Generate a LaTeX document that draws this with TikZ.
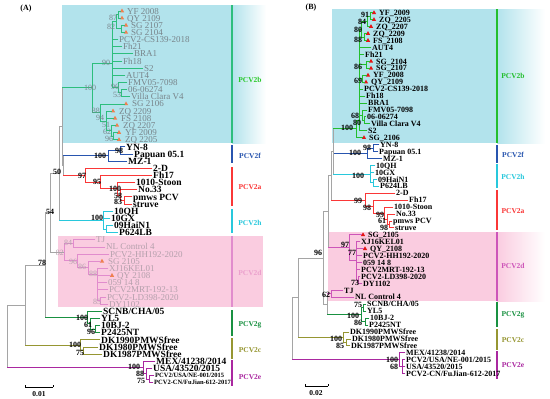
\documentclass[tikz,border=0pt]{standalone}
\usepackage{fontspec}
\setmainfont{Liberation Serif}
\usetikzlibrary{shapes.geometric}
\definecolor{cyanbg}{RGB}{178,227,236}
\definecolor{pinkbg}{RGB}{250,204,224}
\definecolor{cgray}{RGB}{165,165,165}
\definecolor{tgray}{RGB}{120,132,138}
\definecolor{tpink}{RGB}{180,160,172}
\definecolor{Ab}{RGB}{45,190,125}
\definecolor{Bb}{RGB}{35,190,45}
\definecolor{cf}{RGB}{40,85,175}
\definecolor{ca}{RGB}{250,55,55}
\definecolor{ch}{RGB}{40,200,220}
\definecolor{Ad}{RGB}{225,140,205}
\definecolor{Bd}{RGB}{205,85,185}
\definecolor{cg}{RGB}{25,145,65}
\definecolor{cc}{RGB}{150,150,50}
\definecolor{ce}{RGB}{170,40,160}
\definecolor{torange}{RGB}{238,128,80}
\definecolor{tred}{RGB}{230,20,20}
\definecolor{labAb}{RGB}{40,200,40}
\definecolor{labAd}{RGB}{235,160,205}
\tikzset{
 br/.style={line width=0.9pt,line cap=rect},
 eg/.style={br,draw=cgray,line width=0.8pt},
 eAb/.style={br,draw=Ab}, eBb/.style={br,draw=Bb},
 ef/.style={br,draw=cf}, ea/.style={br,draw=ca}, eh/.style={br,draw=ch},
 eAd/.style={br,draw=Ad}, eBd/.style={br,draw=Bd},
 egg/.style={br,draw=cg}, ec/.style={br,draw=cc}, ee/.style={br,draw=ce},
 lfbase/.style={anchor=west,inner sep=1pt,text depth=0pt},
 la/.style={lfbase,text height=6.3pt,font=\fontsize{9.5}{9.5}\selectfont\bfseries},
 lag/.style={lfbase,text height=6pt,text=tgray,font=\fontsize{9}{9}\selectfont},
 lap/.style={lag,text=tpink},
 las/.style={lfbase,text height=4.3pt,font=\fontsize{6.5}{6.5}\selectfont\bfseries},
 lb/.style={lfbase,text height=5.3pt,font=\fontsize{8}{8}\selectfont\bfseries},
 bsk/.style={inner sep=0pt,text height=5.3pt,text depth=0pt,font=\fontsize{8}{8}\selectfont\bfseries},
 bsg/.style={bsk,text=tgray,font=\fontsize{8}{8}\selectfont},
 bsp/.style={bsk,text=tpink,font=\fontsize{8}{8}\selectfont},
 triangA/.style={regular polygon,regular polygon sides=3,minimum size=5pt,inner sep=0pt,fill=torange},
 triangB/.style={triangA,fill=tred},
 cbar/.style={line width=1.5pt},
 clab/.style={inner sep=0pt,font=\fontsize{7.5}{7.5}\selectfont\bfseries},
 plab/.style={inner sep=0pt,font=\fontsize{8}{8}\selectfont\bfseries},
}
\newcommand\leafA[5]{\node[#4] (#1) at (#3,{11+7.15*#2}) {#5};}
\newcommand\triA[3]{\node[triangA] (#1) at (#3,{11+7.15*#2}) {};}
\newcommand\leafB[5]{\node[#4] (#1) at (#3,{12.8+6.94*#2}) {#5};}
\newcommand\triB[3]{\node[triangB] (#1) at (#3,{12.8+6.94*#2}) {};}
\newcommand\E[3]{\draw[#1] (#2) |- (#3);}
\newcommand\ES[4]{\draw[#1] (#3) -- (#3 |- #4);\draw[#2] (#3 |- #4) -- (#4);}
\newcommand\BS[5]{\node[#1] (#2) at (#3,#4) {#5};}
\begin{document}
\begin{tikzpicture}[x=1pt,y=-1pt]
\useasboundingbox (0,0) rectangle (550,399);
\fill[white] (0,0) rectangle (550,399);
% ---------- backgrounds
\fill[cyanbg] (62,5) rectangle (232,143);
\shade[left color=cyanbg,right color=white] (232,5) rectangle (266,143);
\fill[pinkbg] (58,236) rectangle (263,307);
\fill[cyanbg] (332,9) rectangle (497,143);
\shade[left color=cyanbg,right color=white] (497,9) rectangle (545,143);
\fill[pinkbg] (328,232) rectangle (497,301);
\shade[left color=pinkbg,right color=white] (497,232) rectangle (545,301);
% ---------- clade bars and labels A
\draw[cbar,draw=Ab] (232,5) -- (232,143);
\draw[cbar,draw=cf] (232,145) -- (232,163);
\draw[cbar,draw=ca] (232,167) -- (232,206);
\draw[cbar,draw=ch] (232,209) -- (232,233);
\draw[cbar,draw=Ad] (232,236) -- (232,307);
\draw[cbar,draw=cg] (232,310) -- (232,336);
\draw[cbar,draw=cc] (232,338) -- (232,359);
\draw[cbar,draw=ce] (232,360) -- (232,386);
\node[clab,text=labAb] (LAb) at (250,80) {PCV2b};
\node[clab,text=cf] (LAf) at (250,156) {PCV2f};
\node[clab,text=ca] (LAa) at (250,187) {PCV2a};
\node[clab,text=ch] (LAh) at (250,223) {PCV2h};
\node[clab,text=labAd] (LAd) at (250,273) {PCV2d};
\node[clab,text=cg] (LAg) at (250,325) {PCV2g};
\node[clab,text=cc] (LAc) at (250,350) {PCV2c};
\node[clab,text=ce] (LAe) at (250,377) {PCV2e};
% ---------- clade bars and labels B
\draw[cbar,draw=Bb] (497,9) -- (497,143);
\draw[cbar,draw=cf] (497,145) -- (497,163);
\draw[cbar,draw=ch] (497,164) -- (497,188);
\draw[cbar,draw=ca] (497,190) -- (497,230);
\draw[cbar,draw=Bd] (497,232) -- (497,301);
\draw[cbar,draw=cg] (497,302) -- (497,327);
\draw[cbar,draw=cc] (497,329) -- (497,350);
\draw[cbar,draw=ce] (497,351) -- (497,379);
\node[clab,text=Bb] (LBb) at (513,76) {PCV2b};
\node[clab,text=cf] (LBf) at (513,155) {PCV2f};
\node[clab,text=ch] (LBh) at (513,177) {PCV2h};
\node[clab,text=ca] (LBa) at (513,211) {PCV2a};
\node[clab,text=Bd] (LBd) at (513,266) {PCV2d};
\node[clab,text=cg] (LBg) at (513,315) {PCV2g};
\node[clab,text=cc] (LBc) at (513,340) {PCV2c};
\node[clab,text=ce] (LBe) at (513,365) {PCV2e};
% ---------- panel labels
\node[plab] (PA) at (26,9) {(A)};
\node[plab] (PB) at (311,8) {(B)};
% ================= PANEL A leaves
\leafA{a0}{0}{126}{lag}{YF 2008}\triA{at0}{0}{122}
\leafA{a1}{1}{126}{lag}{QY 2109}\triA{at1}{1}{122}
\leafA{a2}{2}{130}{lag}{SG 2107}\triA{at2}{2}{126}
\leafA{a3}{3}{130}{lag}{SG 2104}\triA{at3}{3}{126}
\leafA{a4}{4}{118}{lag}{PCV2-CS139-2018}
\leafA{a5}{5}{122}{lag}{Fh21}
\leafA{a6}{6}{133}{lag}{BRA1}
\leafA{a7}{7}{122}{lag}{Fh18}
\leafA{a8}{8}{143}{lag}{S2}
\leafA{a9}{9}{125}{lag}{AUT4}
\leafA{a10}{10}{127}{lag}{FMV05-7098}
\leafA{a11}{11}{127}{lag}{06-06274}
\leafA{a12}{12}{130}{lag}{Villa Clara V4}
\leafA{a13}{13}{131}{lag}{SG 2106}\triA{at13}{13}{126}
\leafA{a14}{14}{118}{lag}{ZQ 2209}\triA{at14}{14}{113}
\leafA{a15}{15}{120}{lag}{FS 2108}\triA{at15}{15}{115}
\leafA{a16}{16}{122}{lag}{ZQ 2207}\triA{at16}{16}{117}
\leafA{a17}{17}{124}{lag}{YF 2009}\triA{at17}{17}{119}
\leafA{a18}{18}{124}{lag}{ZQ 2205}\triA{at18}{18}{119}
\leafA{a19}{19}{125}{la}{YN-8}
\leafA{a20}{20}{133}{la}{Papuan 05.1}
\leafA{a21}{21}{127}{la}{MZ-1}
\leafA{a22}{22}{152}{la}{2-D}
\leafA{a23}{23}{152}{la}{Fh17}
\leafA{a24}{24}{135}{la}{1010-Stoon}
\leafA{a25}{25}{137}{la}{No.33}
\leafA{a26}{26}{132}{la}{pmws PCV}
\leafA{a27}{27}{132}{la}{struve}
\leafA{a28}{28}{113}{la}{10QH}
\leafA{a29}{29}{110}{la}{10GX}
\leafA{a30}{30}{113}{la}{09HaiN1}
\leafA{a31}{31}{118}{la}{P624LB}
\leafA{a32}{32}{95}{lap}{TJ}
\leafA{a33}{33}{105}{lap}{NL Control 4}
\leafA{a34}{34}{109}{lap}{PCV2-HH192-2020}
\leafA{a35}{35}{107}{lap}{SG 2105}\triA{at35}{35}{102}
\leafA{a36}{36}{108}{lap}{XJ16KEL01}
\leafA{a37}{37}{116}{lap}{QY 2108}\triA{at37}{37}{112}
\leafA{a38}{38}{107}{lap}{059 14 8}
\leafA{a39}{39}{108}{lap}{PCV2MRT-192-13}
\leafA{a40}{40}{106}{lap}{PCV2-LD398-2020}
\leafA{a41}{41}{108}{lap}{DY1102}
\leafA{a42}{42}{102}{la}{SCNB/CHA/05}
\leafA{a43}{43}{100}{la}{YL5}
\leafA{a44}{44}{100}{la}{10BJ-2}
\leafA{a45}{45}{100}{la}{P2425NT}
\leafA{a46}{46}{100}{la}{DK1990PMWSfree}
\leafA{a47}{47}{98}{la}{DK1980PMWSfree}
\leafA{a48}{48}{102}{la}{DK1987PMWSfree}
\leafA{a49}{49}{155}{la}{MEX/41238/2014}
\leafA{a50}{50}{152}{la}{USA/43520/2015}
\leafA{a51}{51}{154}{las}{PCV2/USA/NE-001/2015}
\leafA{a52}{52}{153}{las}{PCV2-CN/FuJian-612-2017}
% ---------- PANEL A internal nodes
\coordinate (n87) at (118,14.6);
\coordinate (nsg) at (121,28.9);
\coordinate (n82) at (116,21.7);
\coordinate (n53) at (121,92.7);
\coordinate (n96a) at (118,87.3);
\coordinate (n90) at (112,63);
\coordinate (n62a) at (113,136.1);
\coordinate (n51) at (111,130.8);
\coordinate (n94) at (106,121);
\coordinate (n88a) at (100,112.5);
\coordinate (n100b) at (92,87.75);
\coordinate (n98) at (120,150.4);
\coordinate (n100f) at (108,155.8);
\coordinate (n83) at (124,200.5);
\coordinate (n58) at (120,195.1);
\coordinate (n100a) at (117,188.9);
\coordinate (n95) at (100,182.2);
\coordinate (n97) at (85,175.2);
\coordinate (nh2) at (106,229.1);
\coordinate (n100h) at (103,220.2);
\coordinate (n84) at (73,243.4);
\coordinate (n85) at (100,300.6);
\coordinate (n88d) at (97,274);
\coordinate (n86) at (88,267.6);
\coordinate (n96d) at (77,260.8);
\coordinate (n82d) at (64,252.1);
\coordinate (n96g) at (95,329.2);
\coordinate (n61) at (90,323.8);
\coordinate (n100g) at (87,317.6);
\coordinate (n75c) at (83,350.6);
\coordinate (n100c) at (80,345.3);
\coordinate (n75e) at (149,379.2);
\coordinate (n88e) at (146,373.9);
\coordinate (n100e) at (143,367.6);
\coordinate (nY) at (63,165.5);
\coordinate (nX) at (62,126.6);
\coordinate (n50) at (59,173.4);
\coordinate (n54) at (50,212.75);
\coordinate (n78) at (45,265.2);
\coordinate (n25) at (25,305.2);
\coordinate (rootA) at (7,336.4);
% ---------- PANEL A edges
\E{eAb}{n87}{at0.west}\E{eAb}{n87}{at1.west}
\E{eAb}{nsg}{at2.west}\E{eAb}{nsg}{at3.west}
\E{eAb}{n82}{n87}\E{eAb}{n82}{nsg}
\E{eAb}{n53}{a11.west}\E{eAb}{n53}{a12.west}
\E{eAb}{n96a}{a10.west}\E{eAb}{n96a}{n53}
\E{eAb}{n90}{n82}\E{eAb}{n90}{a4.west}\E{eAb}{n90}{a5.west}\E{eAb}{n90}{a6.west}
\E{eAb}{n90}{a7.west}\E{eAb}{n90}{a8.west}\E{eAb}{n90}{a9.west}\E{eAb}{n90}{n96a}
\E{eAb}{n62a}{at17.west}\E{eAb}{n62a}{at18.west}
\E{eAb}{n51}{at16.west}\E{eAb}{n51}{n62a}
\E{eAb}{n94}{at14.west}\E{eAb}{n94}{at15.west}\E{eAb}{n94}{n51}
\E{eAb}{n88a}{at13.west}\E{eAb}{n88a}{n94}
\E{eAb}{n100b}{n90}\E{eAb}{n100b}{n88a}
\E{ef}{n98}{a19.west}\E{ef}{n98}{a20.west}
\E{ef}{n100f}{n98}\E{ef}{n100f}{a21.west}
\E{ea}{n83}{a26.west}\E{ea}{n83}{a27.west}
\E{ea}{n58}{a25.west}\E{ea}{n58}{n83}
\E{ea}{n100a}{a24.west}\E{ea}{n100a}{n58}
\E{ea}{n95}{a23.west}\E{ea}{n95}{n100a}
\E{ea}{n97}{a22.west}\E{ea}{n97}{n95}
\E{eh}{nh2}{a30.west}\E{eh}{nh2}{a31.west}
\E{eh}{n100h}{a28.west}\E{eh}{n100h}{a29.west}\E{eh}{n100h}{nh2}
\E{eAd}{n84}{a32.west}\E{eAd}{n84}{a33.west}
\E{eAd}{n85}{a40.west}\E{eAd}{n85}{a41.west}
\E{eAd}{n88d}{a36.west}\E{eAd}{n88d}{at37.west}\E{eAd}{n88d}{a38.west}\E{eAd}{n88d}{a39.west}\E{eAd}{n88d}{n85}
\E{eAd}{n86}{at35.west}\E{eAd}{n86}{n88d}
\E{eAd}{n96d}{a34.west}\E{eAd}{n96d}{n86}
\E{eAd}{n82d}{n84}\E{eAd}{n82d}{n96d}
\E{egg}{n96g}{a44.west}\E{egg}{n96g}{a45.west}
\E{egg}{n61}{a43.west}\E{egg}{n61}{n96g}
\E{egg}{n100g}{a42.west}\E{egg}{n100g}{n61}
\E{ec}{n75c}{a47.west}\E{ec}{n75c}{a48.west}
\E{ec}{n100c}{a46.west}\E{ec}{n100c}{n75c}
\E{ee}{n75e}{a51.west}\E{ee}{n75e}{a52.west}
\E{ee}{n88e}{a50.west}\E{ee}{n88e}{n75e}
\E{ee}{n100e}{a49.west}\E{ee}{n100e}{n88e}
\ES{eg}{ef}{nY}{n100f}\ES{eg}{ea}{nY}{n97}
\ES{eg}{eAb}{nX}{n100b}\E{eg}{nX}{nY}
\E{eg}{n50}{nX}\ES{eg}{eh}{n50}{n100h}
\E{eg}{n54}{n50}\E{eg}{n54}{n82d}
\E{eg}{n78}{n54}\ES{eg}{egg}{n78}{n100g}
\E{eg}{n25}{n78}\ES{eg}{ec}{n25}{n100c}
\E{eg}{rootA}{n25}\ES{eg}{ee}{rootA}{n100e}
% ---------- PANEL A bootstrap labels
\BS{bsg}{sA1}{113}{18}{87}\BS{bsg}{sA2}{111}{27}{82}\BS{bsg}{sA3}{106}{63}{90}
\BS{bsg}{sA4}{115}{87}{96}\BS{bsg}{sA5}{117}{95}{53}\BS{bsg}{sA6}{90}{88}{100}
\BS{bsg}{sA7}{96}{111}{88}\BS{bsg}{sA8}{100}{118}{94}\BS{bsg}{sA9}{106}{125}{51}
\BS{bsg}{sA10}{107}{132}{62}\BS{bsg}{sA11}{109}{139}{96}
\BS{bsk}{sA12}{100}{156}{100}\BS{bsk}{sA13}{119}{151}{98}\BS{bsk}{sA14}{57}{172}{50}
\BS{bsk}{sA15}{82}{176}{97}\BS{bsk}{sA16}{97}{182}{95}\BS{bsk}{sA17}{115}{189}{100}
\BS{bsk}{sA18}{118}{196}{58}\BS{bsk}{sA19}{118}{202}{83}\BS{bsk}{sA20}{50}{212}{54}
\BS{bsk}{sA21}{97}{218}{100}\BS{bsk}{sA22}{42}{263}{78}\BS{bsk}{sA23}{82}{318}{100}
\BS{bsk}{sA24}{88}{325}{61}\BS{bsk}{sA25}{91}{332}{96}\BS{bsk}{sA26}{75}{345}{100}
\BS{bsk}{sA27}{80}{353}{75}\BS{bsk}{sA28}{134}{367}{100}\BS{bsk}{sA29}{140}{374}{88}
\BS{bsk}{sA30}{141}{381}{75}
\BS{bsp}{sA31}{68}{243}{84}\BS{bsp}{sA32}{60}{253}{82}\BS{bsp}{sA33}{73}{262}{96}
\BS{bsp}{sA34}{82}{267}{86}\BS{bsp}{sA35}{93}{274}{88}\BS{bsp}{sA36}{97}{302}{85}
% ---------- scale A
\coordinate (sa1) at (25,387);\coordinate (sa2) at (53,387);
\draw[line width=0.6pt] (sa1) -- (sa2) (25,385) -- (sa1) (53,385) -- (sa2);
\node[plab,font=\fontsize{7.5}{7.5}\selectfont\bfseries] (scA) at (39,394) {0.01};
% ================= PANEL B leaves
\leafB{b0}{0}{378}{lb}{YF\_2009}\triB{bt0}{0}{374}
\leafB{b1}{1}{378}{lb}{ZQ\_2205}\triB{bt1}{1}{374}
\leafB{b2}{2}{375}{lb}{ZQ\_2207}\triB{bt2}{2}{371}
\leafB{b3}{3}{372}{lb}{ZQ\_2209}\triB{bt3}{3}{368}
\leafB{b4}{4}{372}{lb}{FS\_2108}\triB{bt4}{4}{368}
\leafB{b5}{5}{371}{lb}{AUT4}
\leafB{b6}{6}{364}{lb}{Fh21}
\leafB{b7}{7}{375}{lb}{SG\_2104}\triB{bt7}{7}{371}
\leafB{b8}{8}{375}{lb}{SG\_2107}\triB{bt8}{8}{371}
\leafB{b9}{9}{372}{lb}{YF\_2008}\triB{bt9}{9}{368}
\leafB{b10}{10}{370}{lb}{QY\_2109}\triB{bt10}{10}{366}
\leafB{b11}{11}{363}{lb}{PCV2-CS139-2018}
\leafB{b12}{12}{365}{lb}{Fh18}
\leafB{b13}{13}{367}{lb}{BRA1}
\leafB{b14}{14}{367}{lb}{FMV05-7098}
\leafB{b15}{15}{366}{lb}{06-06274}
\leafB{b16}{16}{370}{lb}{Villa Clara V4}
\leafB{b17}{17}{367}{lb}{S2}
\leafB{b18}{18}{368}{lb}{SG\_2106}\triB{bt18}{18}{364}
\leafB{b19}{19}{379}{lb}{YN-8}
\leafB{b20}{20}{378}{lb}{Papuan 05.1}
\leafB{b21}{21}{382}{lb}{MZ-1}
\leafB{b22}{22}{375}{lb}{10QH}
\leafB{b23}{23}{374}{lb}{10GX}
\leafB{b24}{24}{377}{lb}{09HaiN1}
\leafB{b25}{25}{379}{lb}{P624LB}
\leafB{b26}{26}{395}{lb}{2-D}
\leafB{b27}{27}{408}{lb}{Fh17}
\leafB{b28}{28}{393}{lb}{1010-Stoon}
\leafB{b29}{29}{395}{lb}{No.33}
\leafB{b30}{30}{392}{lb}{pmws PCV}
\leafB{b31}{31}{394}{lb}{struve}
\leafB{b32}{32}{367}{lb}{SG\_2105}\triB{bt32}{32}{363}
\leafB{b33}{33}{360}{lb}{XJ16KEL01}
\leafB{b34}{34}{369}{lb}{QY\_2108}\triB{bt34}{34}{365}
\leafB{b35}{35}{362}{lb}{PCV2-HH192-2020}
\leafB{b36}{36}{362}{lb}{059 14 8}
\leafB{b37}{37}{360}{lb}{PCV2MRT-192-13}
\leafB{b38}{38}{360}{lb}{PCV2-LD398-2020}
\leafB{b39}{39}{362}{lb}{DY1102}
\leafB{b40}{40}{343}{lb}{TJ}
\leafB{b41}{41}{354}{lb}{NL Control 4}
\leafB{b42}{42}{366}{lb}{SCNB/CHA/05}
\leafB{b43}{43}{366}{lb}{YL5}
\leafB{b44}{44}{369}{lb}{10BJ-2}
\leafB{b45}{45}{368}{lb}{P2425NT}
\leafB{b46}{46}{349}{lb}{DK1990PMWSfree}
\leafB{b47}{47}{351}{lb}{DK1980PMWSfree}
\leafB{b48}{48}{350}{lb}{DK1987PMWSfree}
\leafB{b49}{49}{405}{lb}{MEX/41238/2014}
\leafB{b50}{50}{405}{lb}{PCV2/USA/NE-001/2015}
\leafB{b51}{51}{405}{lb}{USA/43520/2015}
\leafB{b52}{52}{405}{lb}{PCV2-CN/FuJian-612-2017}
% ---------- PANEL B internal nodes
\coordinate (m91) at (370,16.25);
\coordinate (m84) at (367,21.5);
\coordinate (m88) at (364,37.1);
\coordinate (m80a) at (361,29.3);
\coordinate (m86) at (366,64.85);
\coordinate (m69) at (362,78.75);
\coordinate (m80b) at (364,120.35);
\coordinate (m68) at (362,115.2);
\coordinate (mm) at (359,120);
\coordinate (m100b) at (356,128);
\coordinate (m98f) at (373,148.15);
\coordinate (m100f) at (367,153.35);
\coordinate (mh2) at (373,182.85);
\coordinate (m100h) at (370,174.2);
\coordinate (m98c) at (389,224.5);
\coordinate (m61) at (387,219.3);
\coordinate (m99c) at (384,213.2);
\coordinate (m98d) at (373,206.7);
\coordinate (m99d) at (365,199.95);
\coordinate (m73) at (358,280);
\coordinate (m77) at (356,260.9);
\coordinate (m97) at (349,247.9);
\coordinate (m62) at (331,293.85);
\coordinate (m75g) at (363,307.75);
\coordinate (m86g) at (365,321.65);
\coordinate (m100g) at (361,314.7);
\coordinate (m85c) at (346,342.45);
\coordinate (m100c) at (343,337.2);
\coordinate (m68e) at (402,366.75);
\coordinate (m100e) at (399,359.8);
\coordinate (Nup3) at (333,151.1);
\coordinate (Nup2) at (331,175.6);
\coordinate (Nup) at (328,211.7);
\coordinate (Nz) at (327,304.3);
\coordinate (N96) at (323,258);
\coordinate (Nc) at (298,297.6);
\coordinate (rootB) at (292,328.7);
% ---------- PANEL B edges
\E{eBb}{m91}{bt0.west}\E{eBb}{m91}{bt1.west}
\E{eBb}{m84}{m91}\E{eBb}{m84}{bt2.west}
\E{eBb}{m88}{bt3.west}\E{eBb}{m88}{bt4.west}
\E{eBb}{m80a}{m84}\E{eBb}{m80a}{m88}
\E{eBb}{m86}{bt7.west}\E{eBb}{m86}{bt8.west}
\E{eBb}{m69}{bt9.west}\E{eBb}{m69}{bt10.west}
\E{eBb}{m80b}{b15.west}\E{eBb}{m80b}{b16.west}
\E{eBb}{m68}{b14.west}\E{eBb}{m68}{m80b}
\E{eBb}{mm}{m80a}\E{eBb}{mm}{b5.west}\E{eBb}{mm}{b6.west}\E{eBb}{mm}{m86}\E{eBb}{mm}{m69}
\E{eBb}{mm}{b11.west}\E{eBb}{mm}{b12.west}\E{eBb}{mm}{b13.west}\E{eBb}{mm}{m68}\E{eBb}{mm}{b17.west}
\E{eBb}{m100b}{mm}\E{eBb}{m100b}{bt18.west}
\E{ef}{m98f}{b19.west}\E{ef}{m98f}{b20.west}
\E{ef}{m100f}{m98f}\E{ef}{m100f}{b21.west}
\E{eh}{mh2}{b24.west}\E{eh}{mh2}{b25.west}
\E{eh}{m100h}{b22.west}\E{eh}{m100h}{b23.west}\E{eh}{m100h}{mh2}
\E{ea}{m98c}{b30.west}\E{ea}{m98c}{b31.west}
\E{ea}{m61}{b29.west}\E{ea}{m61}{m98c}
\E{ea}{m99c}{b28.west}\E{ea}{m99c}{m61}
\E{ea}{m98d}{b27.west}\E{ea}{m98d}{m99c}
\E{ea}{m99d}{b26.west}\E{ea}{m99d}{m98d}
\E{eBd}{m73}{b38.west}\E{eBd}{m73}{b39.west}
\E{eBd}{m77}{b33.west}\E{eBd}{m77}{bt34.west}\E{eBd}{m77}{b35.west}\E{eBd}{m77}{b36.west}\E{eBd}{m77}{b37.west}\E{eBd}{m77}{m73}
\E{eBd}{m97}{bt32.west}\E{eBd}{m97}{m77}
\E{eBd}{m62}{b40.west}\E{eBd}{m62}{b41.west}
\E{egg}{m75g}{b42.west}\E{egg}{m75g}{b43.west}
\E{egg}{m86g}{b44.west}\E{egg}{m86g}{b45.west}
\E{egg}{m100g}{m75g}\E{egg}{m100g}{m86g}
\E{ec}{m85c}{b47.west}\E{ec}{m85c}{b48.west}
\E{ec}{m100c}{b46.west}\E{ec}{m100c}{m85c}
\E{ee}{m68e}{b50.west}\E{ee}{m68e}{b51.west}\E{ee}{m68e}{b52.west}
\E{ee}{m100e}{b49.west}\E{ee}{m100e}{m68e}
\ES{eg}{eBb}{Nup3}{m100b}\ES{eg}{ef}{Nup3}{m100f}\ES{eg}{eh}{Nup3}{m100h}
\E{eg}{Nup2}{Nup3}\ES{eg}{ea}{Nup2}{m99d}
\E{eg}{Nup}{Nup2}\ES{eg}{eBd}{Nup}{m97}
\ES{eg}{eBd}{Nz}{m62}\ES{eg}{egg}{Nz}{m100g}
\E{eg}{N96}{Nup}\E{eg}{N96}{Nz}
\E{eg}{Nc}{N96}\ES{eg}{ec}{Nc}{m100c}
\E{eg}{rootB}{Nc}\ES{eg}{ee}{rootB}{m100e}
% ---------- PANEL B bootstrap labels
\BS{bsk}{sB1}{365}{15}{91}\BS{bsk}{sB2}{362}{22}{84}\BS{bsk}{sB3}{358}{30}{80}
\BS{bsk}{sB4}{358}{40}{88}\BS{bsk}{sB5}{358}{67}{86}\BS{bsk}{sB6}{358}{81}{69}
\BS{bsk}{sB7}{355}{116}{68}\BS{bsk}{sB8}{357}{123}{80}\BS{bsk}{sB9}{347}{128}{100}
\BS{bsk}{sB10}{355}{153}{100}\BS{bsk}{sB11}{367}{148}{98}\BS{bsk}{sB12}{358}{176}{100}
\BS{bsk}{sB13}{358}{201}{99}\BS{bsk}{sB14}{367}{208}{98}\BS{bsk}{sB15}{380}{215}{99}
\BS{bsk}{sB16}{382}{221}{61}\BS{bsk}{sB17}{384}{228}{98}
\BS{bsk}{sB18}{345}{245}{97}\BS{bsk}{sB19}{352}{253}{77}\BS{bsk}{sB20}{355}{283}{73}
\BS{bsk}{sB21}{326}{295}{62}\BS{bsk}{sB22}{318}{253}{96}
\BS{bsk}{sB23}{353}{316}{100}\BS{bsk}{sB24}{358}{305}{75}\BS{bsk}{sB25}{358}{323}{86}
\BS{bsk}{sB26}{336}{339}{100}\BS{bsk}{sB27}{340}{346}{85}
\BS{bsk}{sB28}{392}{360}{100}\BS{bsk}{sB29}{394}{367}{68}
% ---------- scale B
\coordinate (sb1) at (305,386);\coordinate (sb2) at (328,386);
\draw[line width=0.6pt] (sb1) -- (sb2) (305,384) -- (sb1) (328,384) -- (sb2);
\node[plab,font=\fontsize{7.5}{7.5}\selectfont\bfseries] (scB) at (316,393) {0.02};
\end{tikzpicture}
\end{document}
